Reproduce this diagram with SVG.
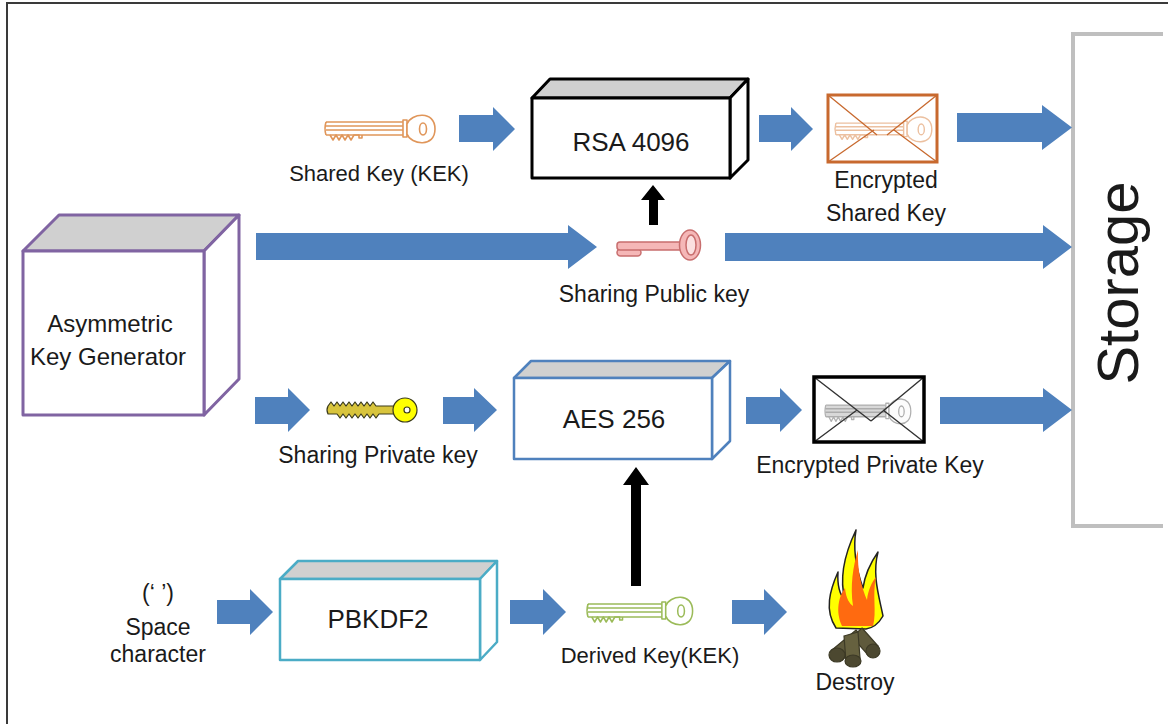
<svg xmlns="http://www.w3.org/2000/svg" xmlns:xlink="http://www.w3.org/1999/xlink" width="1168" height="724" viewBox="0 0 1168 724">
  <style>
    text { font-family: "Liberation Sans", Arial, sans-serif; fill: #1a1a1a; }
    .lbl { font-size: 22px; text-anchor: middle; }
    .lbl.m { font-size: 23px; }
    .lbl.l { font-size: 24px; }
    .big { font-size: 26px; text-anchor: middle; }
    .flow { fill: #4f81bd; }
    .push { fill: #000; }
    .top { fill: #d0d0d0; }
    .face { fill: #fff; }
  </style>
  <defs>
    <!-- outline key drawn in currentColor, 110 x 32 -->
    <g id="outlineKey" fill="none" stroke="currentColor" stroke-width="1.6" stroke-linejoin="round">
      <path d="M1,9 H78 M1,13 H78 M1,17 H78 M1,22 H78 M1,9 Q-1,15.5 1,22"/>
      <path d="M5,22 l3,5 l3,-5 l3,5 l3,-5 l3,5 l3,-5 l3,5 l3,-5 h5 v3 h3 v-3"/>
      <rect x="78" y="7" width="4" height="17" fill="#fff"/>
      <path d="M82,11 C86,0 110,-3 110,16 C110,35 86,32 82,21 Z" fill="#fff"/>
      <ellipse cx="98" cy="16" rx="3.5" ry="6"/>
    </g>
  </defs>

  <rect width="1168" height="724" fill="#fff"/>
  <!-- page frame -->
  <path d="M1168,3 H7 V724" fill="none" stroke="#3a3a3a" stroke-width="2"/>

  <!-- Storage -->
  <g id="storage">
    <path d="M1163,34 H1073 V526 H1163" fill="none" stroke="#bfbfbf" stroke-width="4"/>
    <text transform="translate(1138,283) rotate(-90)" style="font-size:58px" text-anchor="middle">Storage</text>
  </g>

  <!-- connectors -->
  <g id="connectors">
    <!-- row 1 -->
    <polygon class="flow" points="459,115 493,115 493,107 515,129 493,151 493,142 459,142"/>
    <polygon class="flow" points="759,115 791,115 791,107 813,129 791,151 791,142 759,142"/>
    <polygon class="flow" points="957,113 1042,113 1042,105 1072,127.5 1042,150 1042,142 957,142"/>
    <!-- row 2 -->
    <polygon class="flow" points="256,233 568,233 568,225 597,247 568,269 568,260 256,260"/>
    <polygon class="flow" points="725,233 1043,233 1043,225 1072,247 1043,269 1043,261 725,261"/>
    <!-- row 3 -->
    <polygon class="flow" points="255,397 288,397 288,388 310,410 288,432 288,424 255,424"/>
    <polygon class="flow" points="443,397 474,397 474,388 497,410 474,432 474,424 443,424"/>
    <polygon class="flow" points="746,397 780,397 780,388 802,410 780,432 780,424 746,424"/>
    <polygon class="flow" points="940,397 1043,397 1043,388 1072,410 1043,432 1043,424 940,424"/>
    <!-- row 4 -->
    <polygon class="flow" points="217,600 250,600 250,589 273,612 250,635 250,624 217,624"/>
    <polygon class="flow" points="510,600 543,600 543,589 566,612 543,635 543,624 510,624"/>
    <polygon class="flow" points="732,600 764,600 764,589 787,612 764,635 764,624 732,624"/>
    <!-- key feeds into ciphers -->
    <polygon class="push" points="649,225 649,200 641,200 653,185 665,200 658,200 658,225"/>
    <polygon class="push" points="631,586 631,485 623,485 636,467 649,485 641,485 641,586"/>
  </g>

  <!-- Asymmetric Key Generator -->
  <g id="keygen" stroke="#8064a2" stroke-width="3" stroke-linejoin="round">
    <polygon class="top" points="23,251 59,215 239,215 204,251"/>
    <polygon class="face" points="204,251 239,215 239,379 204,415"/>
    <rect class="face" x="23" y="251" width="181" height="164"/>
    <text class="lbl l" x="110" y="332" stroke="none">Asymmetric</text>
    <text class="lbl l" x="108" y="365" stroke="none">Key Generator</text>
  </g>

  <!-- RSA 4096 -->
  <g id="rsa" stroke="#000" stroke-width="3" stroke-linejoin="round">
    <polygon class="top" points="532,98 550,79 748,79 730,98"/>
    <polygon class="face" points="730,98 748,79 748,160 730,178"/>
    <rect class="face" x="532" y="98" width="198" height="80"/>
    <text class="big" x="631" y="151" stroke="none">RSA 4096</text>
  </g>

  <!-- AES 256 -->
  <g id="aes" stroke="#4f81bd" stroke-width="2.5" stroke-linejoin="round">
    <polygon class="top" points="514,378 531,361 730,361 712,378"/>
    <polygon class="face" points="712,378 730,361 730,441 712,459"/>
    <rect class="face" x="514" y="378" width="198" height="81"/>
    <text class="big" x="614" y="428" stroke="none">AES 256</text>
  </g>

  <!-- PBKDF2 -->
  <g id="pbkdf2" stroke="#4bacc6" stroke-width="2.5" stroke-linejoin="round">
    <polygon class="top" points="280,579 298,561 497,561 480,579"/>
    <polygon class="face" points="480,579 497,561 497,642 480,660"/>
    <rect class="face" x="280" y="579" width="200" height="81"/>
    <text class="big" x="378" y="628" stroke="none">PBKDF2</text>
  </g>

  <!-- Shared Key (KEK) -->
  <g id="shared-key">
    <use xlink:href="#outlineKey" transform="translate(325,113)" color="#e0965a"/>
    <text class="lbl" x="379" y="181">Shared Key (KEK)</text>
  </g>

  <!-- Encrypted Shared Key -->
  <g id="enc-shared-key">
    <rect x="828" y="95" width="109" height="67" fill="#fff"/>
    <use xlink:href="#outlineKey" transform="translate(835,115) scale(0.88,0.9)" color="#ecc0a0"/>
    <g fill="none" stroke="#c8692e">
      <path d="M828,95 L877,135 M937,95 L887,135 M828,162 L874,130 M937,162 L894,130" stroke-width="1.3"/>
      <rect x="828" y="95" width="109" height="67" stroke-width="3"/>
    </g>
    <text class="lbl m" x="886" y="188">Encrypted</text>
    <text class="lbl m" x="886" y="221">Shared Key</text>
  </g>

  <!-- Sharing Public key -->
  <g id="public-key" fill="#f5b7b7" stroke="#c86e6e" stroke-width="1.5">
    <rect x="617" y="249" width="24" height="7" rx="3.5"/>
    <rect x="617" y="242" width="66" height="8" rx="3"/>
    <ellipse cx="690" cy="245" rx="10.5" ry="15"/>
    <ellipse cx="691" cy="245" rx="5" ry="10" fill="#fbe0e0"/>
    <text class="lbl m" x="654" y="302" stroke="none">Sharing Public key</text>
  </g>

  <!-- Sharing Private key -->
  <g id="private-key" stroke="#3a3a1a" stroke-width="1.2" stroke-linejoin="round">
    <path d="M328,406 l3,-4 l3,4 l3,-4 l3,4 l3,-4 l3,4 l3,-4 l3,4 l3,-4 l3,4 l3,-4 l3,4 l3,-4 l3,4 l3,-4 l3,4 L394,406 L394,414 L379,414 l-3,4 l-3,-4 l-3,4 l-3,-4 l-3,4 l-3,-4 l-3,4 l-3,-4 l-3,4 l-3,-4 l-3,4 l-3,-4 l-3,4 l-3,-4 L328,414 Q326,410 328,406 Z" fill="#d8c43c"/>
    <circle cx="405" cy="410" r="12" fill="#ffff00"/>
    <circle cx="407" cy="410" r="3" fill="#fff"/>
    <text class="lbl m" x="378" y="463" stroke="none">Sharing Private key</text>
  </g>

  <!-- Encrypted Private Key -->
  <g id="enc-private-key">
    <rect x="814" y="377" width="110" height="65" fill="#fff"/>
    <g transform="translate(825,397) scale(0.78,0.9)">
      <rect x="1" y="9" width="78" height="13" rx="3" fill="#d8d8d8"/>
      <path d="M82,11 C86,0 110,-3 110,16 C110,35 86,32 82,21 Z" fill="#e4e4e4"/>
    </g>
    <use xlink:href="#outlineKey" transform="translate(825,397) scale(0.78,0.9)" color="#a8a8a8" opacity="0.9"/>
    <path d="M814,377 L871,421 M924,377 L871,421 M814,442 L857,410 M924,442 L883,410" fill="none" stroke="#333" stroke-width="1.4"/>
    <rect x="814" y="377" width="110" height="65" fill="none" stroke="#000" stroke-width="3.5"/>
    <text class="lbl m" x="870" y="473">Encrypted Private Key</text>
  </g>

  <!-- Space character input -->
  <g id="space-char">
    <text class="lbl m" x="158" y="601">(‘ ’)</text>
    <text class="lbl m" x="158" y="635">Space</text>
    <text class="lbl m" x="158" y="662">character</text>
  </g>

  <!-- Derived Key (KEK) -->
  <g id="derived-key">
    <use xlink:href="#outlineKey" transform="translate(587,595) scale(0.96,1)" color="#9bbb59"/>
    <text class="lbl" x="650" y="663">Derived Key(KEK)</text>
  </g>

  <!-- Destroy -->
  <g id="destroy">
    <path d="M836,628 C824,610 830,590 838,572 C837,588 841,596 845,600 C839,578 845,553 856,530 C852,553 858,574 863,588 C865,574 871,562 878,552 C872,575 879,596 883,616 C879,623 873,628 866,629 Z" fill="#ffff00" stroke="#222" stroke-width="1.5" stroke-linejoin="round"/>
    <path d="M842,626 C835,611 839,596 845,588 C846,599 850,604 853,606 C850,586 853,566 858,550 C857,570 862,589 867,600 C868,590 872,582 876,577 C872,595 877,612 873,626 Z" fill="#ff6a10"/>
    <g stroke="#3d3a26" stroke-width="1.2">
      <path d="M832,650 L856,630 L866,640 L842,660 Z" fill="#5f5a3c"/>
      <path d="M862,628 L878,646 L868,655 L852,637 Z" fill="#5f5a3c"/>
      <path d="M844,636 L858,632 L860,658 L846,662 Z" fill="#66613f"/>
      <ellipse cx="837" cy="655" rx="8" ry="7" fill="#4c4830"/>
      <ellipse cx="873" cy="651" rx="7" ry="7" fill="#4c4830"/>
      <ellipse cx="853" cy="661" rx="8" ry="6" fill="#4c4830"/>
    </g>
    <text class="lbl m" x="855" y="690">Destroy</text>
  </g>
</svg>
